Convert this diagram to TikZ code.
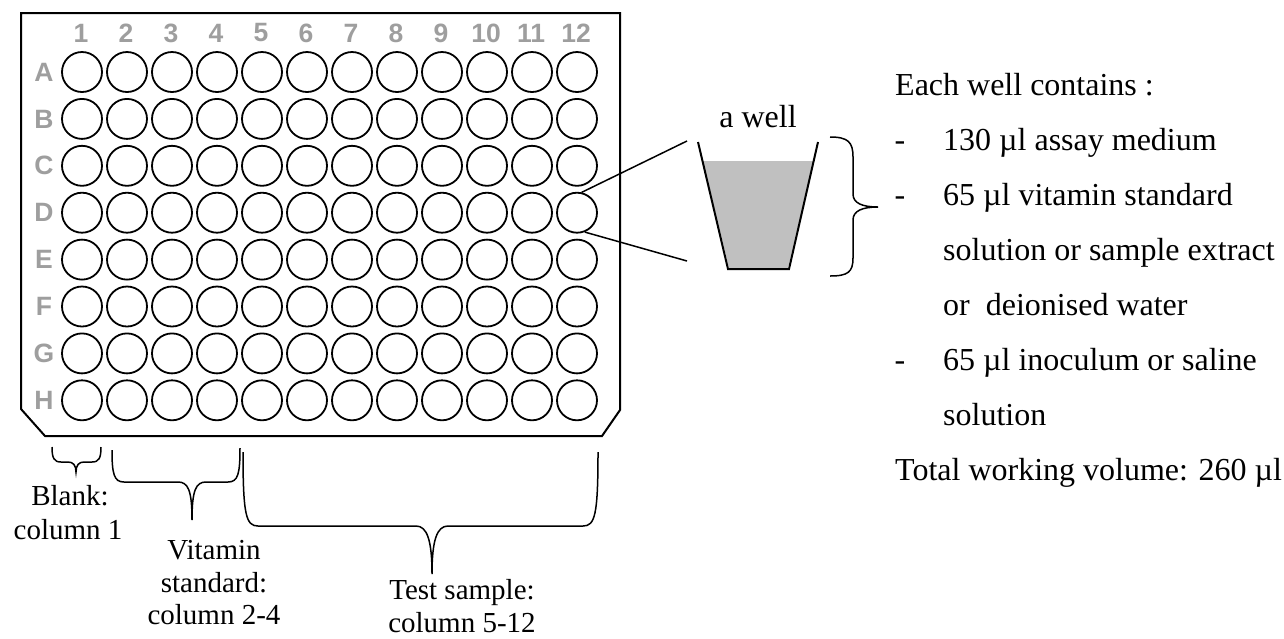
\documentclass[tikz,border=0pt]{standalone}
\usepackage{fontspec}
\setmainfont{Liberation Serif}
\newfontfamily\labfont{Liberation Sans}
\definecolor{labgray}{RGB}{158,158,158}
\definecolor{wellfill}{RGB}{192,192,192}
\begin{document}
\begin{tikzpicture}[x=1pt,y=-1pt,
  well/.style={circle,draw,line width=1.8pt,minimum size=40pt,inner sep=0pt},
  lab/.style={font=\labfont\bfseries\fontsize{26.5}{30}\selectfont,text=labgray,inner sep=0pt},
  txt/.style={font=\fontsize{32}{38}\selectfont,inner sep=0pt,anchor=base west},
  dashtxt/.style={font=\fontsize{32}{38}\selectfont,inner sep=0pt,anchor=base},
  btxt/.style={font=\fontsize{29}{34}\selectfont,inner sep=0pt,anchor=base},
  brace/.style={line width=1.5pt},
  conn/.style={line width=1.5pt}]
\useasboundingbox (0,0) rectangle (1284,638);
% plate outline
\draw[line width=2pt,line join=miter] (21,13) -- (620,13) -- (620,410) -- (602,436) -- (45,436) -- (21,409) -- cycle;
% wells
\foreach \c in {1,...,12}{
  \node[lab] (col\c) at ({81+(\c-1)*45},33) {\c};
  \foreach \R [count=\r] in {A,B,C,D,E,F,G,H}{
    \node[well] (w\R\c) at ({82+(\c-1)*45},{72+(\r-1)*46.9}) {};
  }
}
\foreach \R [count=\r] in {A,B,C,D,E,F,G,H}{
  \node[lab] (row\R) at (44,{72+(\r-1)*46.9}) {\R};
}
% the well (cup)
\coordinate (cupTL) at (698,142);
\coordinate (cupBL) at (728,269);
\coordinate (cupBR) at (789,269);
\coordinate (cupTR) at (818,142);
\fill[wellfill] (703,161) -- (729,268) -- (788,268) -- (813.5,161) -- cycle;
\draw[line width=2pt] (cupTL) -- (cupBL) -- (cupBR) -- (cupTR);
\node[dashtxt] (awell) at (758,127) {a well};
% zoom connectors
\coordinate (zoomT) at (687,141);
\coordinate (zoomB) at (687,261);
\draw[conn] (wD12.77) -- (zoomT);
\draw[conn] (wD12.-68) -- (zoomB);
% right brace
\draw[brace] (830,137) .. controls (848,137) and (853,142) .. (853,157) -- (853,194)
  .. controls (853,203) and (862,207) .. (878,207)
  .. controls (862,207) and (853,211) .. (853,220) -- (853,258)
  .. controls (853,272) and (848,276) .. (830,276);
% bottom braces
\draw[brace] (52,447) .. controls (52,458) and (54,462) .. (61,462) -- (68,462)
  .. controls (73,462) and (76,465) .. (76,472)
  .. controls (76,465) and (79,462) .. (84,462) -- (92,462)
  .. controls (99,462) and (101,458) .. (101,447);
\draw[brace] (112,450) .. controls (112,474) and (114,482) .. (124,482) -- (178,482)
  .. controls (188,482) and (192,490) .. (192,520)
  .. controls (192,490) and (196,482) .. (206,482) -- (228,482)
  .. controls (238,482) and (240,474) .. (240,448);
\draw[brace] (243,452) .. controls (243,515) and (246,526) .. (258,526) -- (416,526)
  .. controls (427,526) and (432,540) .. (432,574)
  .. controls (432,540) and (437,526) .. (448,526) -- (583,526)
  .. controls (595,526) and (598,515) .. (598,452);
% bottom labels
\node[btxt] (blank1) at (70,505) {Blank:};
\node[btxt] (blank2) at (68,539) {column 1};
\node[btxt] (vit1) at (214,559) {Vitamin};
\node[btxt] (vit2) at (214,592) {standard:};
\node[btxt] (vit3) at (214,624) {column 2-4};
\node[btxt] (test1) at (462,599) {Test sample:};
\node[btxt] (test2) at (462,632) {column 5-12};
% right-hand text
\node[txt] (t0) at (895,95) {Each well contains :};
\node[dashtxt] (d1) at (900,150) {-};
\node[txt] (t1) at (943,150) {130 µl assay medium};
\node[dashtxt] (d2) at (900,205) {-};
\node[txt] (t2) at (943,205) {65 µl vitamin standard};
\node[txt] (t3) at (943,260) {solution or sample extract};
\node[txt] (t4) at (943,315) {or~~deionised water};
\node[dashtxt] (d3) at (900,370) {-};
\node[txt] (t5) at (943,370) {65 µl inoculum or saline};
\node[txt] (t6) at (943,425) {solution};
\node[txt] (t7) at (895,480) {Total working volume: 260 µl};
\end{tikzpicture}
\end{document}
